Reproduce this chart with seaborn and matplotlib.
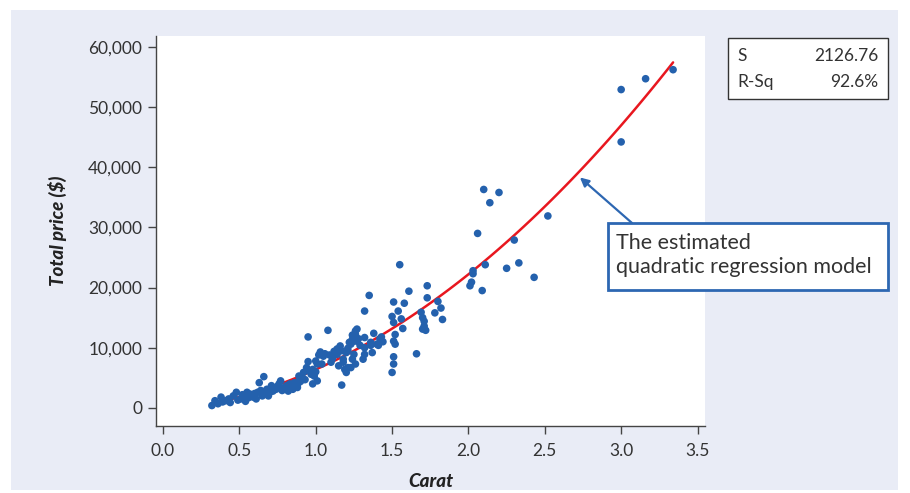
import matplotlib
matplotlib.use("Agg")
import matplotlib.pyplot as plt
from matplotlib.patches import Rectangle
from matplotlib.ticker import FuncFormatter
import pandas as pd
import seaborn as sns

# Diamond sample: weight (carat) and total price in dollars
carat = [
    0.32, 0.34, 0.36, 0.38, 0.39, 0.41, 0.43, 0.44, 0.46, 0.48, 0.49, 0.51,
    0.52, 0.53, 0.54, 0.55, 0.56, 0.57, 0.59, 0.60, 0.61, 0.62, 0.63, 0.64,
    0.65, 0.66, 0.66, 0.68, 0.69, 0.70, 0.71, 0.72, 0.74, 0.75, 0.76, 0.77,
    0.78, 0.79, 0.80, 0.81, 0.82, 0.83, 0.84, 0.85, 0.86, 0.87, 0.88, 0.88,
    0.89, 0.90, 0.90, 0.91, 0.92, 0.93, 0.94, 0.95, 0.95, 0.95, 0.97, 0.98,
    0.98, 0.99, 1.00, 1.00, 1.01, 1.01, 1.02, 1.03, 1.04, 1.05, 1.06, 1.08,
    1.09, 1.10, 1.11, 1.12, 1.14, 1.14, 1.15, 1.16, 1.17, 1.17, 1.18, 1.18,
    1.19, 1.20, 1.20, 1.21, 1.21, 1.21, 1.22, 1.23, 1.23, 1.24, 1.24, 1.24,
    1.25, 1.25, 1.26, 1.26, 1.26, 1.27, 1.27, 1.28, 1.29, 1.31, 1.32, 1.32,
    1.32, 1.32, 1.35, 1.36, 1.36, 1.37, 1.38, 1.40, 1.41, 1.42, 1.43, 1.44,
    1.50, 1.50, 1.51, 1.51, 1.51, 1.51, 1.51, 1.52, 1.52, 1.54, 1.55, 1.56,
    1.57, 1.58, 1.61, 1.66, 1.69, 1.70, 1.71, 1.71, 1.70, 1.72, 1.73, 1.73,
    1.78, 1.80, 1.82, 1.83, 2.01, 2.02, 2.03, 2.03, 2.06, 2.10, 2.09, 2.11,
    2.14, 2.20, 2.25, 2.30, 2.33, 2.43, 2.52, 3.00, 3.00, 3.16, 3.34,
]
price = [
    400, 1200, 700, 1800, 1000, 1200, 1500, 900, 2000, 2600, 1300, 1500,
    2200, 2000, 1100, 2600, 1700, 2300, 1800, 2400, 1500, 2600, 4200, 2900,
    2000, 5200, 2300, 3100, 2000, 2600, 3700, 2800, 3100, 3600, 4000, 4500,
    2900, 3300, 3400, 3700, 2800, 4000, 3500, 3100, 4200, 4200, 3800, 3400,
    5300, 4400, 4900, 4800, 5900, 4700, 6700, 7700, 6200, 11800, 5600, 6400,
    4000, 5300, 7800, 6000, 4500, 7300, 8800, 9300, 7300, 8600, 9000, 12900,
    8800, 7600, 8200, 9400, 9800, 8900, 7000, 10300, 3800, 9500, 7600, 8100,
    6400, 9200, 5900, 9500, 9900, 6700, 10900, 10600, 6700, 11400, 8100, 12100,
    8900, 11100, 12200, 12800, 7300, 13100, 11100, 11500, 10400, 8100, 10000, 8900,
    11700, 16100, 18700, 10900, 10400, 9200, 12400, 10600, 10400, 11500, 11800, 11000,
    15200, 5900, 17600, 14200, 11100, 8500, 7300, 12200, 10600, 16100, 23800, 14800,
    13200, 17400, 19400, 9000, 15900, 15000, 14400, 13600, 13100, 12900, 20300, 18300,
    15800, 17700, 16600, 14700, 20300, 20900, 22300, 22800, 29000, 36300, 19500, 23800,
    34100, 35800, 23200, 27900, 24100, 21700, 31900, 52900, 44200, 54700, 56200,
]

x_ticks = [0.0, 0.5, 1.0, 1.5, 2.0, 2.5, 3.0, 3.5]
y_ticks = [0, 10000, 20000, 30000, 40000, 50000, 60000]
stat_names = ["S", "R-Sq"]
stat_values = ["2126.76", "92.6%"]
note_text = "The estimated\nquadratic regression model"

W, H = 910, 493
POINT_BLUE = "#2461ad"
LINE_RED = "#e8171f"
BOX_BLUE = "#2d67b2"
PANEL = "#e9ecf6"
INK = "#333333"


def fx(px):
    return px / W


def fy(py):
    return 1 - py / H


sns.set_theme(style="ticks")
plt.rcParams["font.family"] = ["Lato", "DejaVu Sans"]

fig = plt.figure(figsize=(W / 100, H / 100), dpi=100, facecolor="white")
fig.patches.append(Rectangle((fx(11), fy(490)), fx(898) - fx(11), fy(10) - fy(490),
                             transform=fig.transFigure, facecolor=PANEL,
                             edgecolor="none", zorder=-10))

ax = fig.add_axes([fx(156), fy(426), fx(705) - fx(156), fy(36) - fy(426)])
ax.set_zorder(1)
ax.set_facecolor("white")

df = pd.DataFrame({"Carat": carat, "Total price": price})

# Quadratic least-squares fit, then the observations on top
sns.regplot(data=df, x="Carat", y="Total price", order=2, ci=None, scatter=False,
            truncate=True, line_kws=dict(color=LINE_RED, lw=1.8), ax=ax)
sns.scatterplot(data=df, x="Carat", y="Total price", s=30, color=POINT_BLUE,
                edgecolor="none", linewidth=0, ax=ax, zorder=3)

ax.set_xlim(-0.046, 3.549)
ax.set_ylim(-3000, 61800)
ax.set_xticks(x_ticks)
ax.set_yticks(y_ticks)
ax.xaxis.set_major_formatter(FuncFormatter(lambda v, _: f"{v:.1f}"))
ax.yaxis.set_major_formatter(FuncFormatter(lambda v, _: f"{v:,.0f}"))

sns.despine(ax=ax)
for side in ("left", "bottom"):
    ax.spines[side].set_color("#444444")
    ax.spines[side].set_linewidth(1.0)
ax.tick_params(axis="both", direction="out", length=6, width=1.0, color="#444444",
               labelsize=12.5, labelcolor=INK, pad=4)
ax.tick_params(axis="x", pad=6)

ax.set_xlabel("Carat", fontsize=13.5, fontweight=900, fontstyle="italic", color="#222222")
ax.set_ylabel("Total price ($)", fontsize=13.5, fontweight=900, fontstyle="italic",
              color="#222222")
ax.xaxis.set_label_coords(0.5, -0.12)
ax.yaxis.set_label_coords(-0.163, 0.5)

# Fit summary box
fig.patches.append(Rectangle((fx(728), fy(99)), fx(888) - fx(728), fy(38) - fy(99),
                             transform=fig.transFigure, facecolor="white",
                             edgecolor="#333333", linewidth=1.0, zorder=2))
for i, (name, val) in enumerate(zip(stat_names, stat_values)):
    yy = fy(56 + i * 26)
    fig.text(fx(737), yy, name, ha="left", va="center", fontsize=12.5, color=INK, zorder=3)
    fig.text(fx(878), yy, val, ha="right", va="center", fontsize=12.5, color=INK, zorder=3)

# Callout pointing at the fitted curve
fig.patches.append(Rectangle((fx(608), fy(290)), fx(888) - fx(608), fy(223) - fy(290),
                             transform=fig.transFigure, facecolor="white",
                             edgecolor=BOX_BLUE, linewidth=2.0, zorder=2))
fig.text(fx(616), fy(255), note_text, ha="left", va="center", fontsize=15.5,
         color=INK, linespacing=1.2, zorder=3)
ax.annotate("", xy=(2.73, 38300), xycoords="data",
            xytext=(fx(632), fy(223)), textcoords="figure fraction",
            arrowprops=dict(arrowstyle="-|>", color=BOX_BLUE, lw=1.6,
                            mutation_scale=13, shrinkA=0, shrinkB=0),
            annotation_clip=False)

fig.savefig("out.png", dpi=100, facecolor="white")
